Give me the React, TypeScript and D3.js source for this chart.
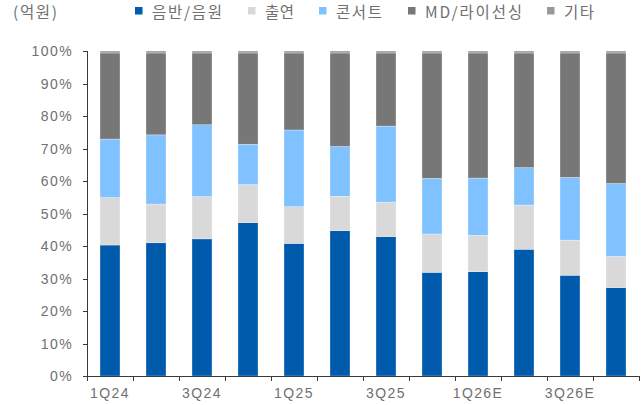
import React, { useEffect, useRef } from 'react';
import * as d3 from 'd3';

const categories = ['1Q24', '2Q24', '3Q24', '4Q24', '1Q25', '2Q25', '3Q25', '4Q25', '1Q26E', '2Q26E', '3Q26E', '4Q26E'];
const shownLabels = ['1Q24', '3Q24', '1Q25', '3Q25', '1Q26E', '3Q26E'];

const seriesNames = ['음반/음원', '출연', '콘서트', 'MD/라이선싱', '기타'];
const colors = ['#005BAC', '#D9D9D9', '#80C1FF', '#777777', '#999999'];

// shares in %
const albumShare = [40.3, 41.0, 42.2, 47.2, 40.8, 44.7, 42.9, 31.9, 32.1, 39.0, 31.0, 27.2];
const appearanceShare = [14.6, 11.9, 13.0, 11.7, 11.3, 10.6, 10.6, 11.8, 11.2, 13.6, 10.8, 9.6];
const concertShare = [18.0, 21.3, 22.1, 12.4, 23.6, 15.3, 23.4, 17.1, 17.6, 11.5, 19.3, 22.4];
const mdShare = [26.5, 25.2, 22.1, 28.1, 23.7, 28.8, 22.5, 38.6, 38.5, 35.3, 38.3, 40.2];
const etcShare = [0.6, 0.6, 0.6, 0.6, 0.6, 0.6, 0.6, 0.6, 0.6, 0.6, 0.6, 0.6];

const yTicks = [0, 10, 20, 30, 40, 50, 60, 70, 80, 90, 100];

const W = 644;
const H = 405;
const FONT = '"Liberation Sans", Arial, "Noto Sans CJK KR", sans-serif';
const KFONT = '"Noto Sans CJK KR", "Liberation Sans", sans-serif';
const TEXT = '#707070';

export default function App() {
  const ref = useRef<SVGSVGElement>(null);

  useEffect(() => {
    const svg = d3.select(ref.current);
    svg.selectAll('*').remove();

    const left = 87, right = 639, top = 51, bottom = 376;

    const rows = categories.map((c, i) => ({
      cat: c,
      [seriesNames[0]]: albumShare[i],
      [seriesNames[1]]: appearanceShare[i],
      [seriesNames[2]]: concertShare[i],
      [seriesNames[3]]: mdShare[i],
      [seriesNames[4]]: etcShare[i],
    }));

    const x = d3.scaleBand().domain(categories).range([left, right]).paddingInner(0.565).paddingOuter(0.2825);
    const y = d3.scaleLinear().domain([0, 100]).range([bottom, top]);

    const stacked = d3.stack<any>().keys(seriesNames)(rows);

    // bars
    svg.append('g')
      .selectAll('g')
      .data(stacked)
      .enter()
      .append('g')
      .attr('fill', (d, i) => colors[i])
      .selectAll('rect')
      .data(d => d)
      .enter()
      .append('rect')
      .attr('x', d => x(d.data.cat)!)
      .attr('width', x.bandwidth())
      .attr('y', d => y(d[1]))
      .attr('height', d => y(d[0]) - y(d[1]))
      .attr('stroke', '#ffffff')
      .attr('stroke-opacity', 0.5)
      .attr('stroke-width', 0.6);

    // y axis
    svg.append('line')
      .attr('x1', left + 0.5).attr('x2', left + 0.5)
      .attr('y1', top).attr('y2', bottom)
      .attr('stroke', '#3a3a3a');

    svg.append('g')
      .selectAll('line')
      .data(yTicks)
      .enter()
      .append('line')
      .attr('x1', left - 4).attr('x2', left + 0.5)
      .attr('y1', d => Math.round(y(d)) + 0.5).attr('y2', d => Math.round(y(d)) + 0.5)
      .attr('stroke', '#3a3a3a');

    svg.append('g')
      .selectAll('text')
      .data(yTicks)
      .enter()
      .append('text')
      .attr('x', 73)
      .attr('y', d => y(d))
      .attr('dy', '0.36em')
      .attr('text-anchor', 'end')
      .style('font-family', FONT)
      .style('font-size', '14px')
      .style('letter-spacing', '1.4px')
      .style('fill', TEXT)
      .text(d => d + '%');

    // x axis
    svg.append('line')
      .attr('x1', left).attr('x2', right)
      .attr('y1', bottom + 0.5).attr('y2', bottom + 0.5)
      .attr('stroke', '#3a3a3a');

    const step = x.step();
    const tickXs = categories.map(c => x(c)! + x.bandwidth() / 2 - step / 2).concat([right]);
    svg.append('g')
      .selectAll('line')
      .data(tickXs)
      .enter()
      .append('line')
      .attr('x1', d => Math.round(d) + 0.5).attr('x2', d => Math.round(d) + 0.5)
      .attr('y1', bottom).attr('y2', bottom + 5)
      .attr('stroke', '#3a3a3a');

    svg.append('g')
      .selectAll('text')
      .data(shownLabels)
      .enter()
      .append('text')
      .attr('x', d => x(d)! + x.bandwidth() / 2)
      .attr('y', 398)
      .attr('text-anchor', 'middle')
      .style('font-family', FONT)
      .style('font-size', '14px')
      .style('letter-spacing', '1.4px')
      .style('fill', TEXT)
      .text(d => d);

    // unit
    svg.append('text')
      .attr('x', 13).attr('y', 17.5)
      .attr('textLength', 44)
      .attr('lengthAdjust', 'spacing')
      .style('font-family', KFONT)
      .style('font-size', '15.5px')
      .style('fill', TEXT)
      .text('(억원)');

    // legend
    const legendX = [135, 248, 319, 408, 547];
    const legendW = [70, 29, 46, 97, 30];
    const lg = svg.append('g')
      .selectAll('g')
      .data(seriesNames)
      .enter()
      .append('g')
      .attr('transform', (d, i) => `translate(${legendX[i]},0)`);
    lg.append('rect')
      .attr('x', 0).attr('y', 7).attr('width', 7.5).attr('height', 7.5)
      .attr('fill', (d, i) => colors[i]);
    lg.append('text')
      .attr('x', 17).attr('y', 17.5)
      .attr('textLength', (d, i) => legendW[i])
      .attr('lengthAdjust', 'spacing')
      .style('font-family', KFONT)
      .style('font-size', '15.5px')
      .style('fill', TEXT)
      .text(d => d);
  }, []);

  return (
    <svg ref={ref} width={W} height={H} style={{ position: 'absolute', left: 0, top: 0, background: '#fff' }} />
  );
}
